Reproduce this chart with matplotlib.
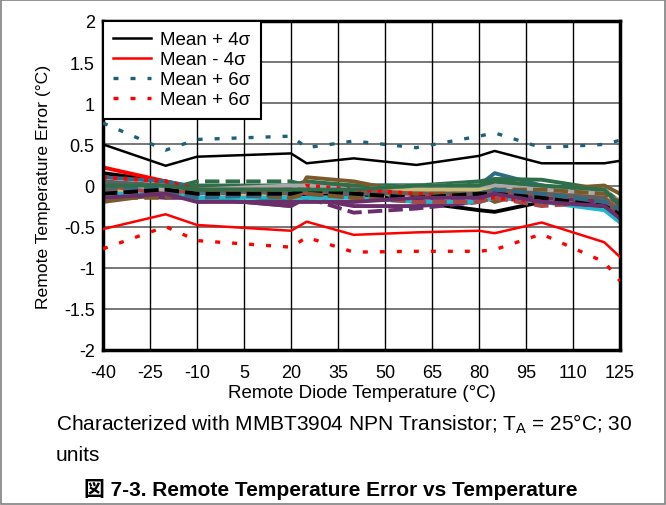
import matplotlib
matplotlib.use('Agg')
import matplotlib.pyplot as plt
from matplotlib.patches import Rectangle

plt.rcParams['font.family'] = ['Liberation Sans', 'Noto Sans CJK JP', 'DejaVu Sans']
plt.rcParams['axes.unicode_minus'] = False

# temperatures where the units were measured
temps = [-40, -20, -10, 20, 25, 40, 60, 80, 85, 100, 120, 125]

# statistical limits
mean_p4 = [0.50, 0.24, 0.35, 0.39, 0.27, 0.33, 0.25, 0.36, 0.42, 0.27, 0.27, 0.30]
mean_m4 = [-0.53, -0.35, -0.48, -0.55, -0.44, -0.60, -0.57, -0.55, -0.58, -0.45, -0.69, -0.87]
mean_p6 = [0.76, 0.43, 0.56, 0.60, 0.46, 0.54, 0.46, 0.60, 0.64, 0.46, 0.50, 0.55]
mean_m6 = [-0.77, -0.50, -0.67, -0.75, -0.63, -0.81, -0.80, -0.80, -0.78, -0.59, -0.93, -1.16]

# individual units
u1 = [0.15, 0.05, -0.05, -0.20, -0.10, -0.10, -0.20, -0.30, -0.32, -0.20, -0.25, -0.40]
u2 = [0.22, 0.05, -0.03, -0.05, -0.05, -0.05, -0.05, -0.05, -0.05, -0.10, -0.20, -0.35]
u3 = [0.10, 0.05, -0.02, 0.00, 0.00, 0.00, 0.00, 0.00, 0.15, 0.00, -0.10, -0.30]
u4 = [0.05, -0.05, -0.10, -0.05, -0.05, -0.05, -0.05, -0.05, 0.05, -0.05, -0.15, -0.35]
u5 = [0.05, -0.05, 0.00, 0.00, 0.05, 0.00, 0.00, 0.05, 0.08, 0.07, -0.05, -0.20]
u6 = [-0.05, -0.05, 0.05, 0.05, 0.00, -0.05, -0.05, -0.05, 0.05, 0.00, -0.10, -0.25]
u7 = [-0.20, -0.10, -0.15, -0.25, 0.10, 0.05, -0.10, -0.10, -0.20, -0.05, 0.00, -0.10]
u8 = [-0.10, -0.15, -0.15, -0.25, -0.15, -0.25, -0.25, -0.20, -0.10, -0.15, -0.20, -0.30]
u9 = [-0.05, -0.10, -0.05, -0.15, -0.15, -0.33, -0.28, -0.20, -0.15, -0.10, -0.20, -0.35]
u10 = [0.00, -0.05, -0.05, 0.00, 0.00, -0.05, -0.10, -0.05, 0.00, -0.05, -0.10, -0.20]
u11 = [-0.10, -0.10, -0.15, -0.05, -0.05, -0.05, 0.00, 0.00, 0.00, -0.05, -0.05, -0.20]
u12 = [-0.05, -0.10, -0.15, -0.10, -0.05, -0.10, -0.05, -0.05, -0.05, -0.10, -0.15, -0.30]
u13 = [-0.15, -0.10, -0.10, -0.15, -0.15, -0.15, -0.10, -0.10, -0.05, -0.10, -0.10, -0.25]
u14 = [-0.10, -0.10, -0.15, -0.15, -0.15, -0.15, -0.20, -0.20, -0.15, -0.20, -0.30, -0.45]
u15 = [0.00, -0.10, -0.05, -0.05, -0.10, -0.05, -0.10, -0.10, -0.10, -0.10, -0.15, -0.30]
u16 = [-0.05, -0.10, -0.10, -0.10, -0.10, -0.15, -0.20, -0.20, -0.15, -0.25, -0.20, -0.35]
u17 = [0.05, 0.00, -0.05, -0.10, -0.05, -0.10, -0.10, -0.10, -0.05, -0.10, -0.15, -0.40]
u18 = [-0.05, -0.05, -0.10, -0.15, -0.05, -0.10, -0.15, -0.15, -0.10, -0.15, -0.20, -0.30]
u19 = [-0.15, -0.15, -0.05, -0.15, -0.10, -0.15, -0.10, -0.10, -0.05, -0.05, -0.10, -0.20]
u20 = [0.10, 0.05, -0.05, -0.10, 0.00, -0.05, -0.10, -0.15, -0.15, -0.20, -0.25, -0.30]
u21 = [0.00, -0.05, -0.15, -0.10, -0.05, -0.10, -0.15, -0.10, -0.05, -0.10, -0.20, -0.30]
u22 = [-0.10, -0.05, -0.10, -0.10, -0.05, -0.10, -0.15, -0.10, -0.10, -0.15, -0.25, -0.35]
u23 = [0.00, 0.00, -0.05, -0.05, -0.05, -0.05, 0.00, 0.00, 0.05, 0.00, -0.05, -0.25]
u24 = [-0.15, -0.10, -0.20, -0.20, -0.20, -0.20, -0.15, -0.15, -0.10, -0.20, -0.25, -0.40]

units = [u1, u2, u3, u4, u5, u6, u7, u8, u9, u10, u11, u12,
         u13, u14, u15, u16, u17, u18, u19, u20, u21, u22, u23, u24]
unit_colors = ['#000000', '#FF0000', '#2F6A86', '#3D7A9A', '#2E6F4A', '#2E6F4A',
               '#7A5A2A', '#6A2E6A', '#6A2E6A', '#A8A8A8', '#A8A8A8', '#C8BC78',
               '#C8BC78', '#22B8CC', '#A84848', '#A84848', '#606060', '#606060',
               '#7A5A2A', '#FF0000', '#2F6A86', '#000000', '#2E6F4A', '#6A2E6A']
unit_styles = ['-', '-', '-', '-', '-', '--', '-', '-', '--', '-', '--', '-',
               '--', '-', '-', '--', '-', '--', '--', ':', '--', '--', '-', '-']

xticks = [-40, -25, -10, 5, 20, 35, 50, 65, 80, 95, 110, 125]
yticks = [-2, -1.5, -1, -0.5, 0, 0.5, 1, 1.5, 2]

fig = plt.figure(figsize=(6.66, 5.06), dpi=100)
ax = fig.add_axes([103/666, 1 - 351/506, 517/666, 329/506])

for y in yticks[1:-1]:
    ax.axhline(y, color='#606060', lw=1.2, zorder=1)
for x in xticks[1:-1]:
    ax.axvline(x, color='black', lw=1.0, zorder=1)

for d, c, s in zip(units, unit_colors, unit_styles):
    ax.plot(temps, d, color=c, ls=s, lw=2.8, zorder=2)

ax.plot(temps, mean_p4, color='black', lw=1.8, label='Mean + 4σ', zorder=3)
ax.plot(temps, mean_m4, color='#FF0000', lw=1.8, label='Mean - 4σ', zorder=3)
ax.plot(temps, mean_p6, color='#1F5F78', lw=2.4, ls=(0, (1.5, 3.6)), label='Mean + 6σ', zorder=3)
ax.plot(temps, mean_m6, color='#FF0000', lw=2.4, ls=(0, (1.5, 3.6)), label='Mean + 6σ', zorder=3)

ax.set_xlim(-40, 125)
ax.set_ylim(-2, 2)
ax.set_xticks(xticks)
ax.set_yticks(yticks)
ax.set_yticklabels(['-2', '-1.5', '-1', '-0.5', '0', '0.5', '1', '1.5', '2'])
ax.tick_params(length=0, labelsize=13)
ax.tick_params(axis='x', pad=10)
ax.tick_params(axis='y', pad=6)
for sp in ax.spines.values():
    sp.set_linewidth(2.5)
ax.set_xlabel('Remote Diode Temperature (°C)', fontsize=13.5, labelpad=2)
ax.set_ylabel('Remote Temperature Error (°C)', fontsize=12.6, labelpad=9)

leg = ax.legend(loc='upper left', fontsize=13.5, frameon=True, fancybox=False,
                framealpha=1, edgecolor='black', handlelength=2.0,
                borderaxespad=0.0, labelspacing=0.15, borderpad=0.55,
                handletextpad=0.5)
leg.get_frame().set_linewidth(1.5)
leg.set_zorder(5)

fig.text(56/666, 1 - 424/506, r'Characterized with MMBT3904 NPN Transistor; T$_\mathregular{A}$ = 25°C; 30',
         fontsize=15, va='center', ha='left')
fig.text(56/666, 1 - 456/506, 'units', fontsize=15, va='center', ha='left')
fig.text(331/666, 1 - 490/506, '図 7-3. Remote Temperature Error vs Temperature',
         fontsize=15, fontweight='bold', va='center', ha='center')

fig.patches.append(Rectangle((0.0015, 0.002), 0.997, 0.996, transform=fig.transFigure,
                             fill=False, edgecolor='#808080', lw=1.2))

fig.savefig('out.png', dpi=100)
